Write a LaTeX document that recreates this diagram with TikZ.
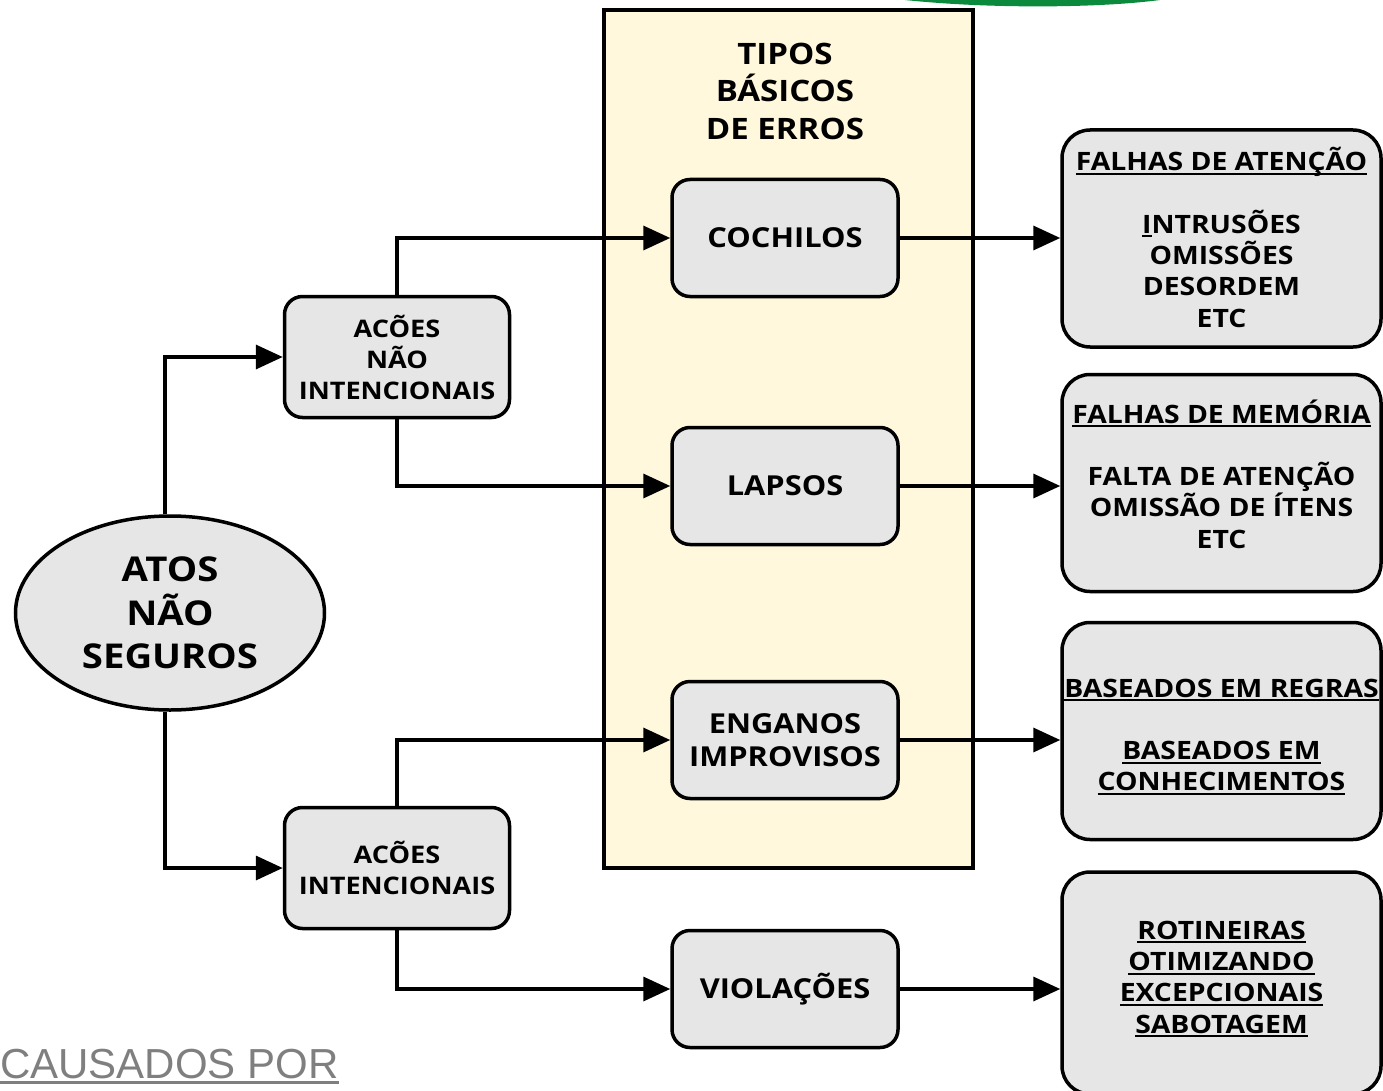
\documentclass[tikz,border=0pt]{standalone}
\usepackage{fontspec}
\setmainfont[FakeStretch=1.12]{Open Sans}
\newfontfamily\arialfont{Liberation Sans}
\usetikzlibrary{positioning,shapes.geometric,arrows.meta}
\definecolor{cinzacaixa}{HTML}{E6E6E6}
\definecolor{amarelo}{HTML}{FFF8DC}
\definecolor{verde}{HTML}{0B8A3E}
\definecolor{cinzatexto}{HTML}{7F7F7F}
\newsavebox\ulbox
\newcommand{\ulin}[1]{\sbox\ulbox{#1}\leavevmode\rlap{\rule[-4pt]{\wd\ulbox}{2pt}}\usebox\ulbox}
\newcommand{\ulgrande}[1]{\sbox\ulbox{#1}\leavevmode\rlap{\rule[-6pt]{\wd\ulbox}{3pt}}\usebox\ulbox}

\tikzset{
  caixa/.style={draw, line width=3.5pt, fill=cinzacaixa, rounded corners=18pt,
    minimum width=226pt, minimum height=117pt, align=center,
    font=\fontsize{27.5}{33}\selectfont\bfseries},
  acao/.style={caixa, minimum width=225pt, minimum height=121pt,
    font=\fontsize{24.2}{31}\selectfont\bfseries},
  lista/.style={caixa, minimum width=319pt, minimum height=217pt, rounded corners=28pt},
  listatexto/.style={align=center, font=\fontsize{25.3}{31.3}\selectfont\bfseries},
  atos/.style={draw, ellipse, line width=3.5pt, fill=cinzacaixa, minimum width=309pt,
    minimum height=194pt, align=center, font=\fontsize{34.2}{43.5}\selectfont\bfseries},
  painel/.style={draw, line width=3.5pt, fill=amarelo, minimum width=369pt, minimum height=858pt},
  titulo/.style={align=center, font=\fontsize{29.5}{37.5}\selectfont\bfseries},
  seta/.style={line width=3.5pt, -{Triangle[length=27pt,width=24pt]}},
  causa/.style={text=cinzatexto, font=\arialfont\fontsize{42}{42}\selectfont, inner sep=0pt}
}

\begin{document}
\begin{tikzpicture}[x=1pt, y=-1pt]
\useasboundingbox (0,0) rectangle (1383,1091);
\fill[verde] (905,0) .. controls (990,9) and (1100,8) .. (1160,0) -- cycle;

% painel dos tipos basicos
\node[painel] (painel) at (788.5,439) {};
\node[titulo] (tit) at (785,91) {TIPOS\\BÁSICOS\\DE ERROS};

\node[atos] (atos) at (170,613) {ATOS\\NÃO\\SEGUROS};
\node[acao] (acnao) at (397,357) {ACÕES\\NÃO\\INTENCIONAIS};
\node[acao] (acint) at (397,868) {ACÕES\\INTENCIONAIS};

\node[caixa] (cochilos) at (785,238) {COCHILOS};
\node[caixa] (lapsos) at (785,486) {LAPSOS};
\node[caixa] (enganos) at (785,740) {ENGANOS\\IMPROVISOS};
\node[caixa] (violacoes) at (785,989) {VIOLAÇÕES};

% caixas da direita
\node[lista] (atencao) at (1221.5,238.5) {};
\node[lista] (memoria) at (1221.5,483) {};
\node[lista] (regras) at (1221.5,731) {};
\node[lista, minimum height=222pt] (rotinas) at (1221.5,983) {};
\node[listatexto] (atencaotxt) at ([yshift=1]atencao.center) {\ulin{FALHAS DE ATENÇÃO}\\[31pt]\ulin{I}NTRUSÕES\\OMISSÕES\\DESORDEM\\ETC};
\node[listatexto] (memoriatxt) at ([yshift=9]memoria.center) {\ulin{FALHAS DE MEMÓRIA}\\[31pt]FALTA DE ATENÇÃO\\OMISSÃO DE ÍTENS\\ETC};
\node[listatexto] (regrastxt) at ([yshift=-6]regras.center) {\ulin{BASEADOS EM REGRAS}\\[31pt]\ulin{BASEADOS EM}\\\ulin{CONHECIMENTOS}};
\node[listatexto] (rotinastxt) at ([yshift=4]rotinas.center) {\ulin{ROTINEIRAS}\\\ulin{OTIMIZANDO}\\\ulin{EXCEPCIONAIS}\\\ulin{SABOTAGEM}};

\node[causa, anchor=base west] (causados) at (0,1078) {\ulgrande{CAUSADOS POR}};

% ligacoes
\draw[seta] ([xshift=-5]atos.north) |- (acnao.west);
\draw[seta] ([xshift=-5]atos.south) |- (acint.west);
\draw[seta] (acnao.north) |- (cochilos.west);
\draw[seta] (acnao.south) |- (lapsos.west);
\draw[seta] (acint.north) |- (enganos.west);
\draw[seta] (acint.south) |- (violacoes.west);
\draw[seta] (cochilos) -- (atencao.west |- cochilos);
\draw[seta] (lapsos) -- (memoria.west |- lapsos);
\draw[seta] (enganos) -- (regras.west |- enganos);
\draw[seta] (violacoes) -- (rotinas.west |- violacoes);
\end{tikzpicture}
\end{document}
